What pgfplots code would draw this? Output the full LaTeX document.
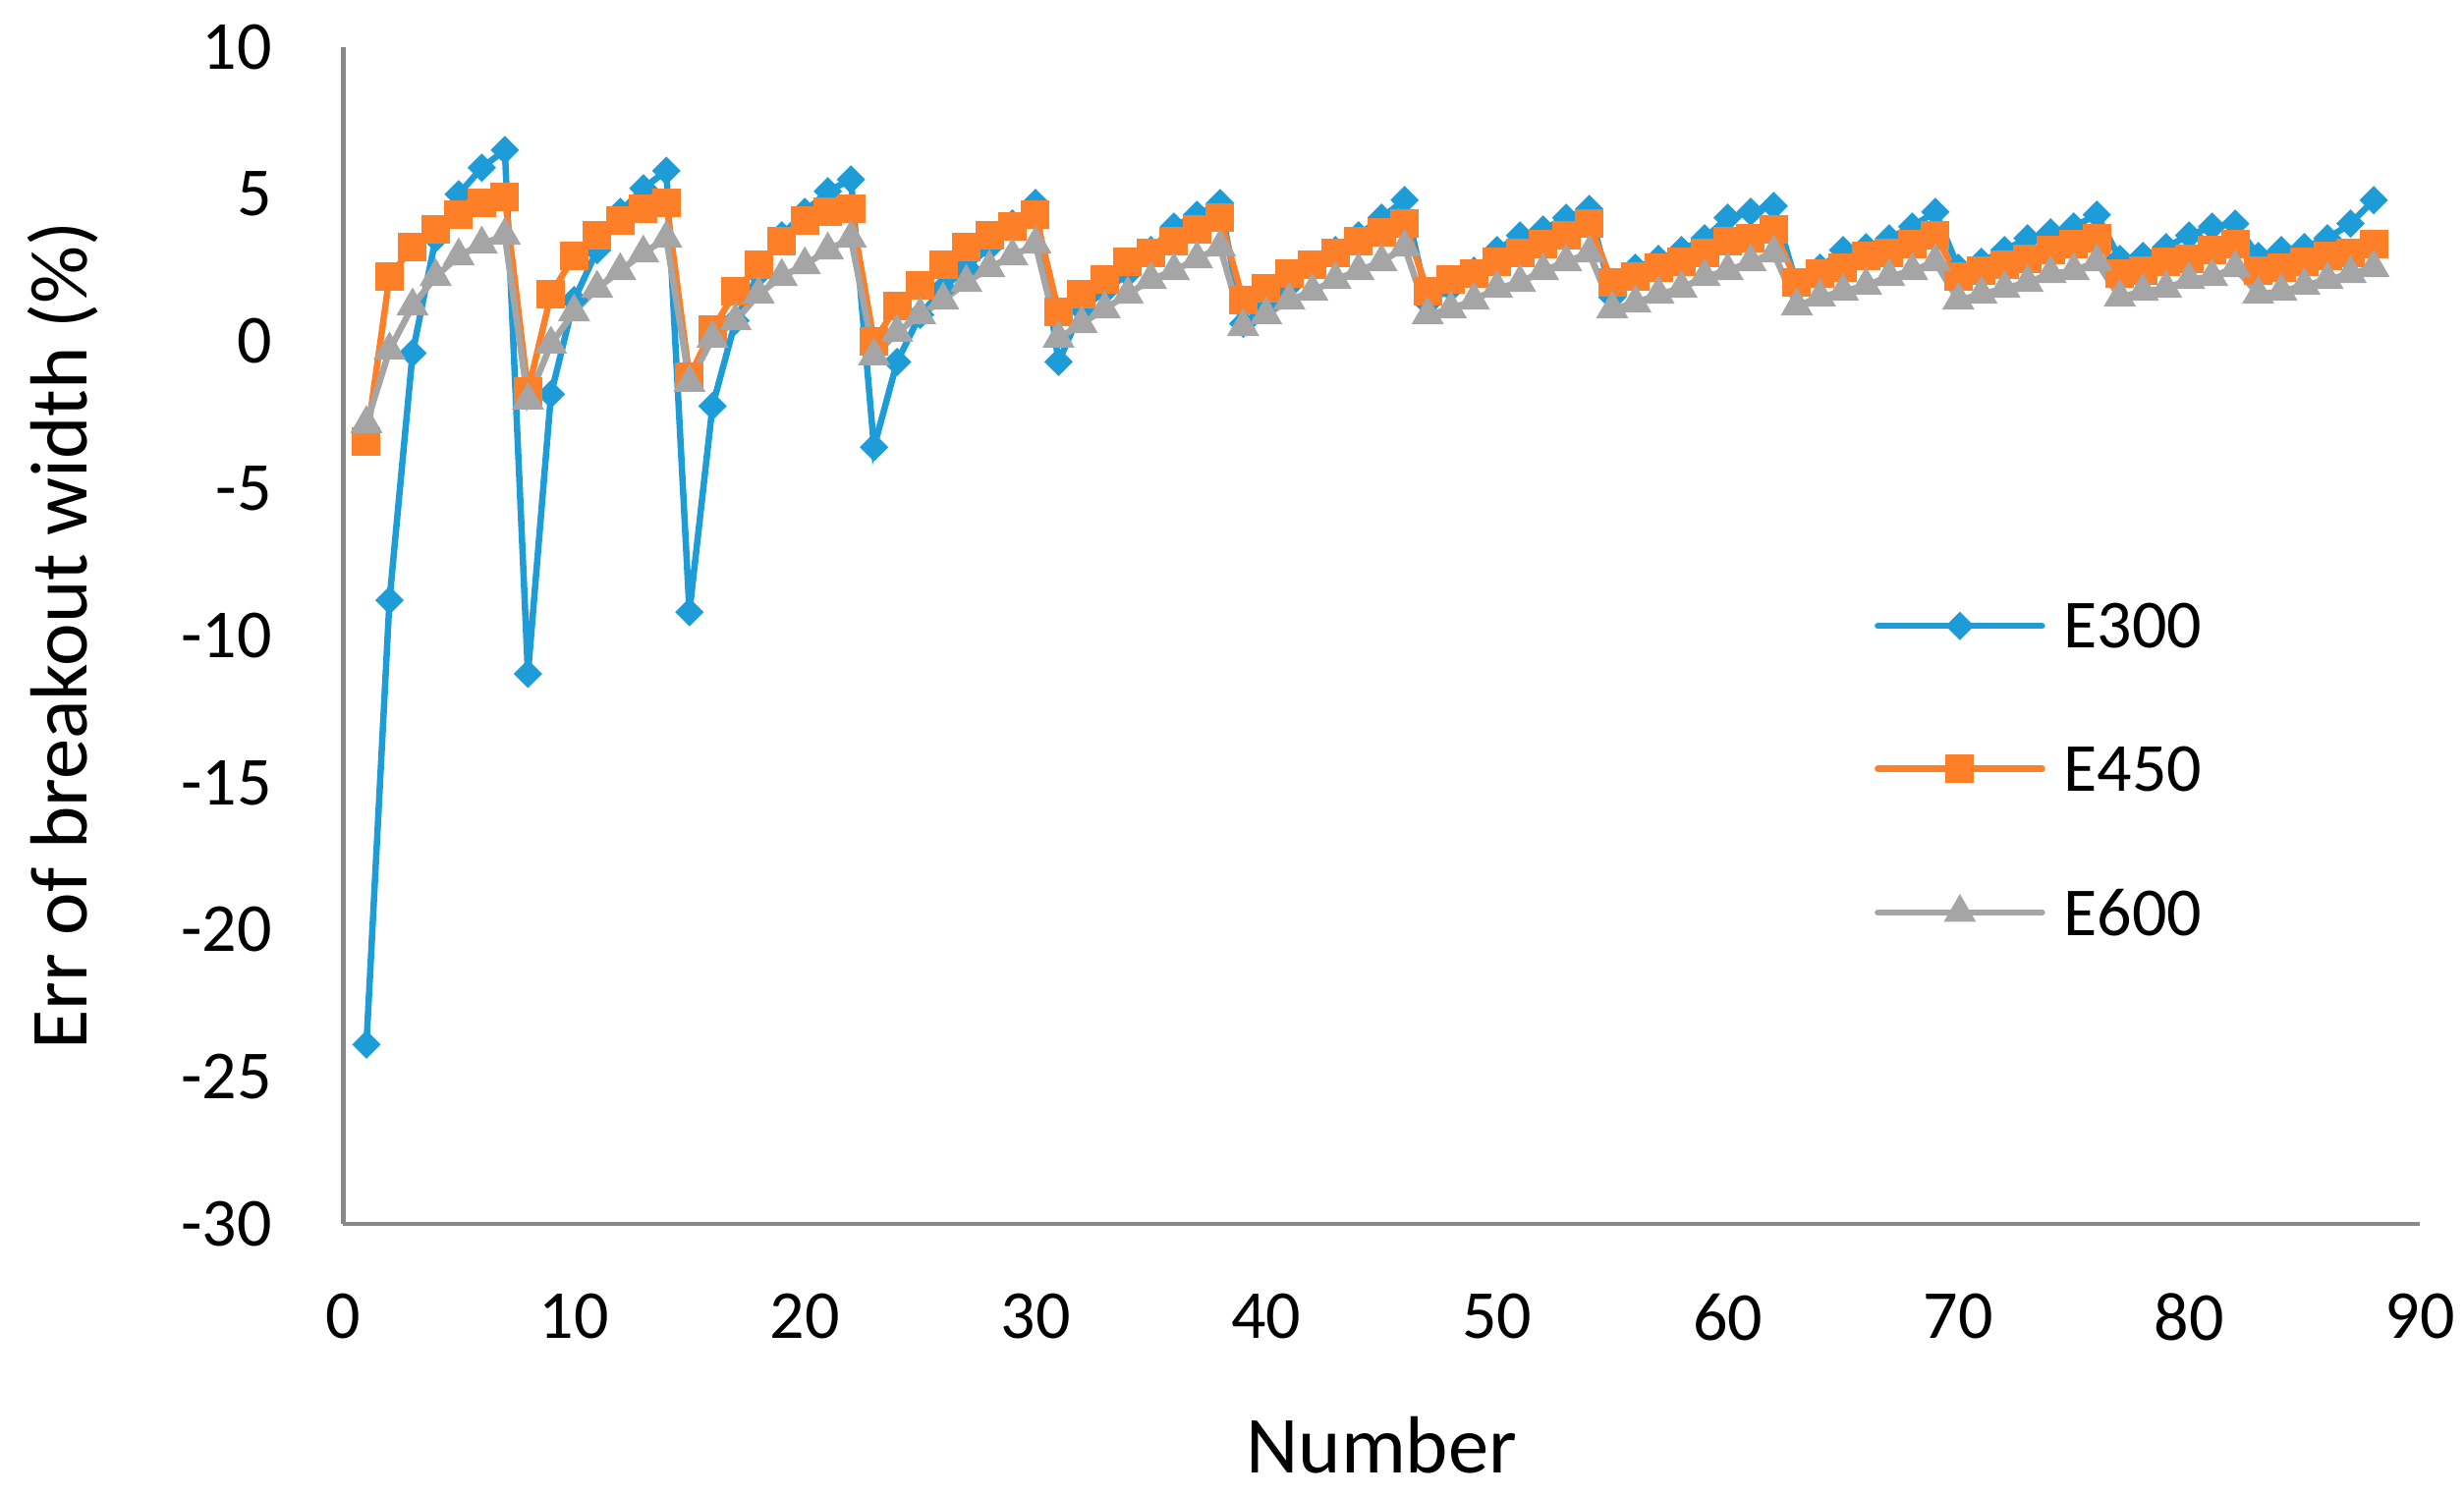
\documentclass[border=0pt]{standalone}
\usepackage{fontspec}
\setmainfont{Carlito}
\usepackage{pgfplots}
\usepackage{pgfplotstable}
\pgfplotsset{compat=1.18}

\definecolor{cblue}{RGB}{30,156,215}
\definecolor{corange}{RGB}{253,127,40}
\definecolor{cgray}{RGB}{165,165,165}
\definecolor{caxis}{RGB}{137,137,137}

% n, E300, E450, E600
\pgfplotstableread{
n  a      b     c
1  -23.9  -3.4  -2.8
2  -8.8   2.2   -0.3
3  -0.4   3.2   1.2
4  3.5    3.8   2.2
5  5.0    4.3   2.9
6  5.9    4.7   3.3
7  6.5    4.9   3.6
8  -11.3  -1.7  -2.0
9  -1.8   1.6   -0.1
10 1.4    2.9   1.0
11 3.1    3.6   1.8
12 4.4    4.1   2.4
13 5.2    4.5   3.0
14 5.8    4.7   3.5
15 -9.2   -1.2  -1.4
16 -2.2   0.4   0.1
17 0.7    1.7   0.7
18 2.3    2.6   1.6
19 3.6    3.4   2.2
20 4.4    4.1   2.6
21 5.1    4.4   3.1
22 5.5    4.5   3.5
23 -3.6   0.0   -0.5
24 -0.7   1.2   0.3
25 0.9    1.9   0.9
26 1.8    2.6   1.4
27 2.5    3.2   2.0
28 3.2    3.6   2.5
29 4.0    3.9   2.9
30 4.7    4.3   3.3
31 -0.7   1.0   0.1
32 1.1    1.6   0.6
33 1.7    2.1   1.1
34 2.3    2.7   1.6
35 3.1    3.0   2.1
36 3.9    3.4   2.4
37 4.3    3.8   2.8
38 4.7    4.2   3.2
39 0.6    1.4   0.5
40 1.2    1.8   0.9
41 1.9    2.3   1.4
42 2.6    2.6   1.7
43 3.1    3.0   2.1
44 3.6    3.4   2.4
45 4.2    3.7   2.7
46 4.8    4.0   3.2
47 1.3    1.7   0.9
48 1.8    2.1   1.1
49 2.4    2.3   1.4
50 3.1    2.7   1.8
51 3.6    3.0   2.0
52 3.8    3.3   2.4
53 4.2    3.6   2.7
54 4.5    4.0   3.0
55 1.5    2.0   1.1
56 2.5    2.2   1.3
57 2.8    2.5   1.6
58 3.1    2.7   1.8
59 3.5    3.0   2.2
60 4.2    3.4   2.4
61 4.4    3.5   2.7
62 4.6    3.8   3.0
63 1.9    2.0   1.2
64 2.5    2.3   1.5
65 3.1    2.5   1.7
66 3.2    2.9   1.9
67 3.5    3.0   2.2
68 3.9    3.3   2.4
69 4.4    3.6   2.7
70 2.5    2.2   1.4
71 2.7    2.4   1.6
72 3.1    2.6   1.8
73 3.5    2.8   2.0
74 3.7    3.1   2.3
75 3.9    3.3   2.4
76 4.3    3.5   2.7
77 2.8    2.3   1.5
78 2.9    2.4   1.7
79 3.2    2.7   1.8
80 3.6    2.8   2.1
81 3.9    3.1   2.2
82 4.0    3.3   2.5
83 2.9    2.4   1.6
84 3.1    2.5   1.7
85 3.2    2.7   1.9
86 3.5    2.9   2.1
87 4.0    3.0   2.3
88 4.8    3.3   2.5
}\errdata

\begin{document}
\begin{tikzpicture}
\begin{axis}[
    name=ax,
    scale only axis,
    width=422.7pt, height=239.6pt,
    xmin=0, xmax=90, ymin=-30, ymax=10,
    xtick={0,10,...,90},
    ytick={-30,-25,...,10},
    axis lines*=left,
    axis line style={-, draw=caxis, line width=0.9pt},
    major tick length=0pt,
    /pgf/number format/assume math mode=true,
    ticklabel style={font=\fontsize{14}{16}\selectfont},
    yticklabel style={anchor=east, inner sep=0pt, xshift=-14.4pt},
    xticklabel style={anchor=north, inner sep=0pt, yshift=-14pt},
    xlabel={Number},
    ylabel={Err of breakout width (\%)},
    xlabel style={font=\fontsize{16.5}{19}\selectfont, at={(axis description cs:0.5,0)}, anchor=base, yshift=-50.8pt},
    ylabel style={font=\fontsize{16.5}{19}\selectfont, at={(axis description cs:-0.135,0.5)}, anchor=center},
    legend style={draw=none, fill=none, at={(0.737,0.386)}, anchor=west,
        font=\fontsize{14}{16}\selectfont, inner sep=0pt, row sep=20pt,
        nodes={inner sep=0pt, text depth=0pt},
        /tikz/every odd column/.append style={column sep=3.8pt}},
    legend cell align=left,
    legend image code/.code={\draw[line cap=round, mark repeat=2, mark phase=2] plot coordinates {(0pt,0pt) (16.7pt,0pt) (33.4pt,0pt)};},
]
\addplot[cblue, line width=1.3pt, mark=square*, mark size=1.85pt, mark options={solid, line width=0.4pt, rotate=45}]
    table[x=n, y=a] {\errdata};
\addlegendentry{E300}
\addplot[corange, line width=1.3pt, mark=square*, mark size=2.7pt, mark options={solid, line width=0.4pt}]
    table[x=n, y=b] {\errdata};
\addlegendentry{E450}
\addplot[cgray, line width=1.3pt, mark=triangle*, mark size=3.4pt, mark options={solid, line width=0.4pt}]
    table[x=n, y=c] {\errdata};
\addlegendentry{E600}
\end{axis}
\pgfresetboundingbox
\path[use as bounding box] (ax.south west) ++(-69.9pt,-55.6pt) rectangle ++(501.6pt,304.8pt);
\end{tikzpicture}
\end{document}
